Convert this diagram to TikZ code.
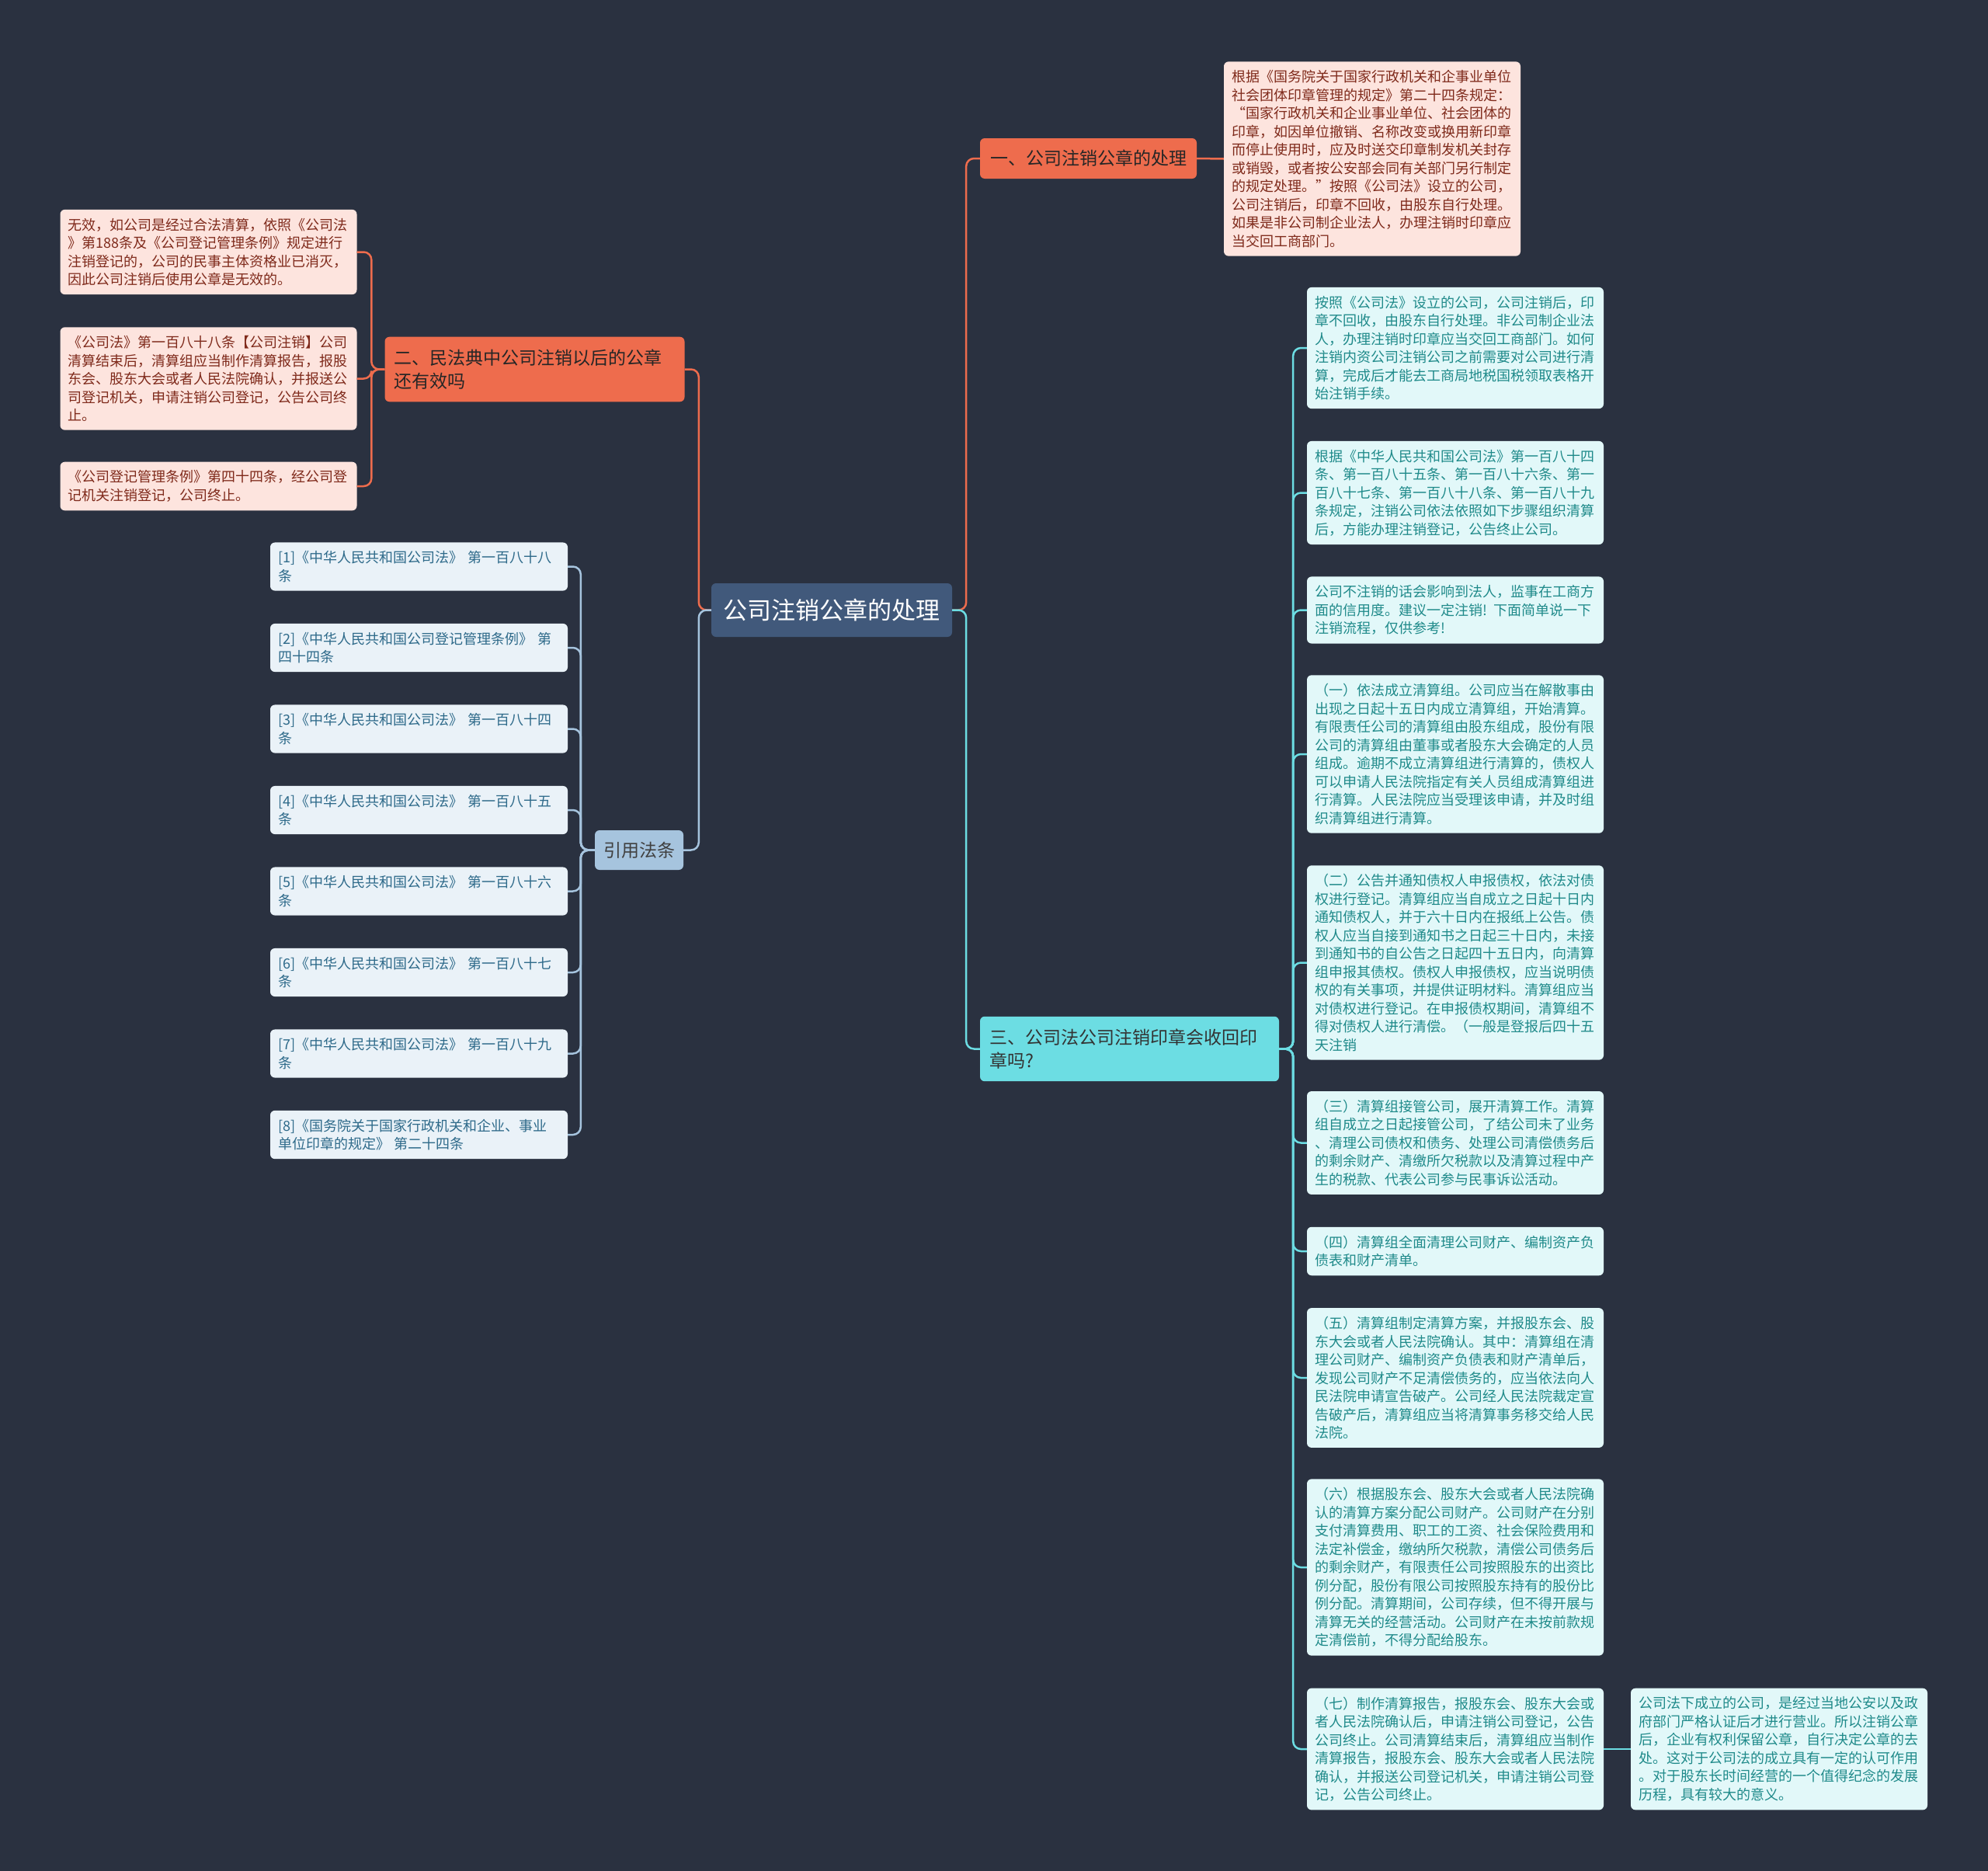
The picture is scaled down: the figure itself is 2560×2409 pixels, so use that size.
\documentclass[tikz,border=0pt]{standalone}
\usepackage{fontspec}
\setmainfont{Noto Sans CJK SC}
\definecolor{bgnavy}{HTML}{2A3140}
\definecolor{rootblue}{HTML}{41597B}
\definecolor{redorange}{HTML}{EE6C4D}
\definecolor{pinkfill}{HTML}{FDE4DE}
\definecolor{pinktext}{HTML}{7F2A1B}
\definecolor{paleblue}{HTML}{A6C4DE}
\definecolor{citefill}{HTML}{EAF2F8}
\definecolor{citetext}{HTML}{2E6A8A}
\definecolor{aqua}{HTML}{6CDDE3}
\definecolor{aquafill}{HTML}{E2F8F9}
\definecolor{aquatext}{HTML}{1F8A8A}

\begin{document}
\begin{tikzpicture}[x=1pt, y=-1pt,
    every node/.style={rectangle, rounded corners=6pt, inner xsep=10pt, inner ysep=11pt},
    rootbox/.style={fill=rootblue, text=white, font=\fontsize{31}{38}\selectfont, minimum width=310pt, minimum height=69pt},
    redbranch/.style={fill=redorange, text=black!85, font=\fontsize{23}{30}\selectfont, align=left},
    aquabranch/.style={fill=aqua, text=black!80, font=\fontsize{23}{30}\selectfont, align=left},
    lawbranch/.style={fill=paleblue, text=black!75, font=\fontsize{23}{30}\selectfont, minimum width=114pt, minimum height=51pt},
    pinkleaf/.style={fill=pinkfill, text=pinktext, font=\fontsize{18}{23.5}\selectfont, text width=362pt, align=left},
    citeleaf/.style={fill=citefill, text=citetext, font=\fontsize{18}{23.5}\selectfont, text width=363pt, align=left},
    aqualeaf/.style={fill=aquafill, text=aquatext, font=\fontsize{18}{23.5}\selectfont, text width=362pt, align=left},
    redlink/.style={draw=redorange, line width=2.5pt, rounded corners=10pt},
    bluelink/.style={draw=paleblue, line width=2.5pt, rounded corners=10pt},
    aqualink/.style={draw=aqua, line width=2.5pt, rounded corners=10pt}]

    \fill[bgnavy] (0,0) rectangle (2560,2409);
    \useasboundingbox (0,0) rectangle (2560,2409);

    % centre
    \node[rootbox] (root) at (1071,785.5) {公司注销公章的处理};

    % branches
    \node[redbranch, inner xsep=13pt, minimum height=52pt] (one) at (1401.5,204) {一、公司注销公章的处理};
    \node[redbranch, text width=362pt, inner xsep=12pt, inner ysep=16pt] (two) at (688.5,475.5) {二、民法典中公司注销以后的公章\\还有效吗};
    \node[aquabranch, text width=361pt, inner xsep=12pt, inner ysep=16pt] (three) at (1454.5,1350.5) {三、公司法公司注销印章会收回印\\章吗?};
    \node[lawbranch] (laws) at (823,1094.5) {引用法条};

    % branch one
    \node[pinkleaf] (p1) at (1767,204.5) {根据《国务院关于国家行政机关和企事业单位\\社会团体印章管理的规定》第二十四条规定：\\“国家行政机关和企业事业单位、社会团体的\\印章，如因单位撤销、名称改变或换用新印章\\而停止使用时，应及时送交印章制发机关封存\\或销毁，或者按公安部会同有关部门另行制定\\的规定处理。”按照《公司法》设立的公司，\\公司注销后，印章不回收，由股东自行处理。\\如果是非公司制企业法人，办理注销时印章应\\当交回工商部门。};

    % branch two
    \node[pinkleaf] (l1) at (268.5,324.5) {无效，如公司是经过合法清算，依照《公司法\\》第188条及《公司登记管理条例》规定进行\\注销登记的，公司的民事主体资格业已消灭，\\因此公司注销后使用公章是无效的。};
    \node[pinkleaf] (l2) at (268.5,487.5) {《公司法》第一百八十八条【公司注销】公司\\清算结束后，清算组应当制作清算报告，报股\\东会、股东大会或者人民法院确认，并报送公\\司登记机关，申请注销公司登记，公告公司终\\止。};
    \node[pinkleaf] (l3) at (268.5,626) {《公司登记管理条例》第四十四条，经公司登\\记机关注销登记，公司终止。};

    % cited laws
    \node[citeleaf] (c1) at (539.5,729.5) {[1]《中华人民共和国公司法》 第一百八十八\\条};
    \node[citeleaf] (c2) at (539.5,834) {[2]《中华人民共和国公司登记管理条例》 第\\四十四条};
    \node[citeleaf] (c3) at (539.5,938.5) {[3]《中华人民共和国公司法》 第一百八十四\\条};
    \node[citeleaf] (c4) at (539.5,1043) {[4]《中华人民共和国公司法》 第一百八十五\\条};
    \node[citeleaf] (c5) at (539.5,1147.5) {[5]《中华人民共和国公司法》 第一百八十六\\条};
    \node[citeleaf] (c6) at (539.5,1252) {[6]《中华人民共和国公司法》 第一百八十七\\条};
    \node[citeleaf] (c7) at (539.5,1356.5) {[7]《中华人民共和国公司法》 第一百八十九\\条};
    \node[citeleaf] (c8) at (539.5,1461) {[8]《国务院关于国家行政机关和企业、事业\\单位印章的规定》 第二十四条};

    % branch three
    \node[aqualeaf] (r1) at (1874,448) {按照《公司法》设立的公司，公司注销后，印\\章不回收，由股东自行处理。非公司制企业法\\人，办理注销时印章应当交回工商部门。如何\\注销内资公司注销公司之前需要对公司进行清\\算，完成后才能去工商局地税国税领取表格开\\始注销手续。};
    \node[aqualeaf] (r2) at (1874,634.5) {根据《中华人民共和国公司法》第一百八十四\\条、第一百八十五条、第一百八十六条、第一\\百八十七条、第一百八十八条、第一百八十九\\条规定，注销公司依法依照如下步骤组织清算\\后，方能办理注销登记，公告终止公司。};
    \node[aqualeaf] (r3) at (1874,785.5) {公司不注销的话会影响到法人，监事在工商方\\面的信用度。建议一定注销! 下面简单说一下\\注销流程，仅供参考!};
    \node[aqualeaf] (r4) at (1874,971) {（一）依法成立清算组。公司应当在解散事由\\出现之日起十五日内成立清算组，开始清算。\\有限责任公司的清算组由股东组成，股份有限\\公司的清算组由董事或者股东大会确定的人员\\组成。逾期不成立清算组进行清算的，债权人\\可以申请人民法院指定有关人员组成清算组进\\行清算。人民法院应当受理该申请，并及时组\\织清算组进行清算。};
    \node[aqualeaf] (r5) at (1874,1239.5) {（二）公告并通知债权人申报债权，依法对债\\权进行登记。清算组应当自成立之日起十日内\\通知债权人，并于六十日内在报纸上公告。债\\权人应当自接到通知书之日起三十日内，未接\\到通知书的自公告之日起四十五日内，向清算\\组申报其债权。债权人申报债权，应当说明债\\权的有关事项，并提供证明材料。清算组应当\\对债权进行登记。在申报债权期间，清算组不\\得对债权人进行清偿。（一般是登报后四十五\\天注销};
    \node[aqualeaf] (r6) at (1874,1471.5) {（三）清算组接管公司，展开清算工作。清算\\组自成立之日起接管公司，了结公司未了业务\\、清理公司债权和债务、处理公司清偿债务后\\的剩余财产、清缴所欠税款以及清算过程中产\\生的税款、代表公司参与民事诉讼活动。};
    \node[aqualeaf] (r7) at (1874,1611) {（四）清算组全面清理公司财产、编制资产负\\债表和财产清单。};
    \node[aqualeaf] (r8) at (1874,1774) {（五）清算组制定清算方案，并报股东会、股\\东大会或者人民法院确认。其中：清算组在清\\理公司财产、编制资产负债表和财产清单后，\\发现公司财产不足清偿债务的，应当依法向人\\民法院申请宣告破产。公司经人民法院裁定宣\\告破产后，清算组应当将清算事务移交给人民\\法院。};
    \node[aqualeaf] (r9) at (1874,2018) {（六）根据股东会、股东大会或者人民法院确\\认的清算方案分配公司财产。公司财产在分别\\支付清算费用、职工的工资、社会保险费用和\\法定补偿金，缴纳所欠税款，清偿公司债务后\\的剩余财产，有限责任公司按照股东的出资比\\例分配，股份有限公司按照股东持有的股份比\\例分配。清算期间，公司存续，但不得开展与\\清算无关的经营活动。公司财产在未按前款规\\定清偿前，不得分配给股东。};
    \node[aqualeaf] (r10) at (1874,2252) {（七）制作清算报告，报股东会、股东大会或\\者人民法院确认后，申请注销公司登记，公告\\公司终止。公司清算结束后，清算组应当制作\\清算报告，报股东会、股东大会或者人民法院\\确认，并报送公司登记机关，申请注销公司登\\记，公告公司终止。};
    \node[aqualeaf] (r11) at (2291,2252) {公司法下成立的公司，是经过当地公安以及政\\府部门严格认证后才进行营业。所以注销公章\\后，企业有权利保留公章，自行决定公章的去\\处。这对于公司法的成立具有一定的认可作用\\。对于股东长时间经营的一个值得纪念的发展\\历程，具有较大的意义。};

    % links
    \draw[redlink] (root.east) -- ++(18,0) |- (one.west);
    \draw[aqualink] (root.east) -- ++(18,0) |- (three.west);
    \draw[redlink] (root.west) -- ++(-16,0) |- (two.east);
    \draw[bluelink] (root.west) -- ++(-16,0) |- (laws.east);
    \draw[redlink] (one.east) -- (p1.west);
    \draw[redlink] (two.west) -- ++(-17,0) |- (l1.east);
    \draw[redlink] (two.west) -- ++(-17,0) |- (l2.east);
    \draw[redlink] (two.west) -- ++(-17,0) |- (l3.east);
    \draw[bluelink] (laws.west) -- ++(-18,0) |- (c1.east);
    \draw[bluelink] (laws.west) -- ++(-18,0) |- (c2.east);
    \draw[bluelink] (laws.west) -- ++(-18,0) |- (c3.east);
    \draw[bluelink] (laws.west) -- ++(-18,0) |- (c4.east);
    \draw[bluelink] (laws.west) -- ++(-18,0) |- (c5.east);
    \draw[bluelink] (laws.west) -- ++(-18,0) |- (c6.east);
    \draw[bluelink] (laws.west) -- ++(-18,0) |- (c7.east);
    \draw[bluelink] (laws.west) -- ++(-18,0) |- (c8.east);
    \draw[aqualink] (three.east) -- ++(18,0) |- (r1.west);
    \draw[aqualink] (three.east) -- ++(18,0) |- (r2.west);
    \draw[aqualink] (three.east) -- ++(18,0) |- (r3.west);
    \draw[aqualink] (three.east) -- ++(18,0) |- (r4.west);
    \draw[aqualink] (three.east) -- ++(18,0) |- (r5.west);
    \draw[aqualink] (three.east) -- ++(18,0) |- (r6.west);
    \draw[aqualink] (three.east) -- ++(18,0) |- (r7.west);
    \draw[aqualink] (three.east) -- ++(18,0) |- (r8.west);
    \draw[aqualink] (three.east) -- ++(18,0) |- (r9.west);
    \draw[aqualink] (three.east) -- ++(18,0) |- (r10.west);
    \draw[aqualink] (r10.east) -- (r11.west);
\end{tikzpicture}
\end{document}
